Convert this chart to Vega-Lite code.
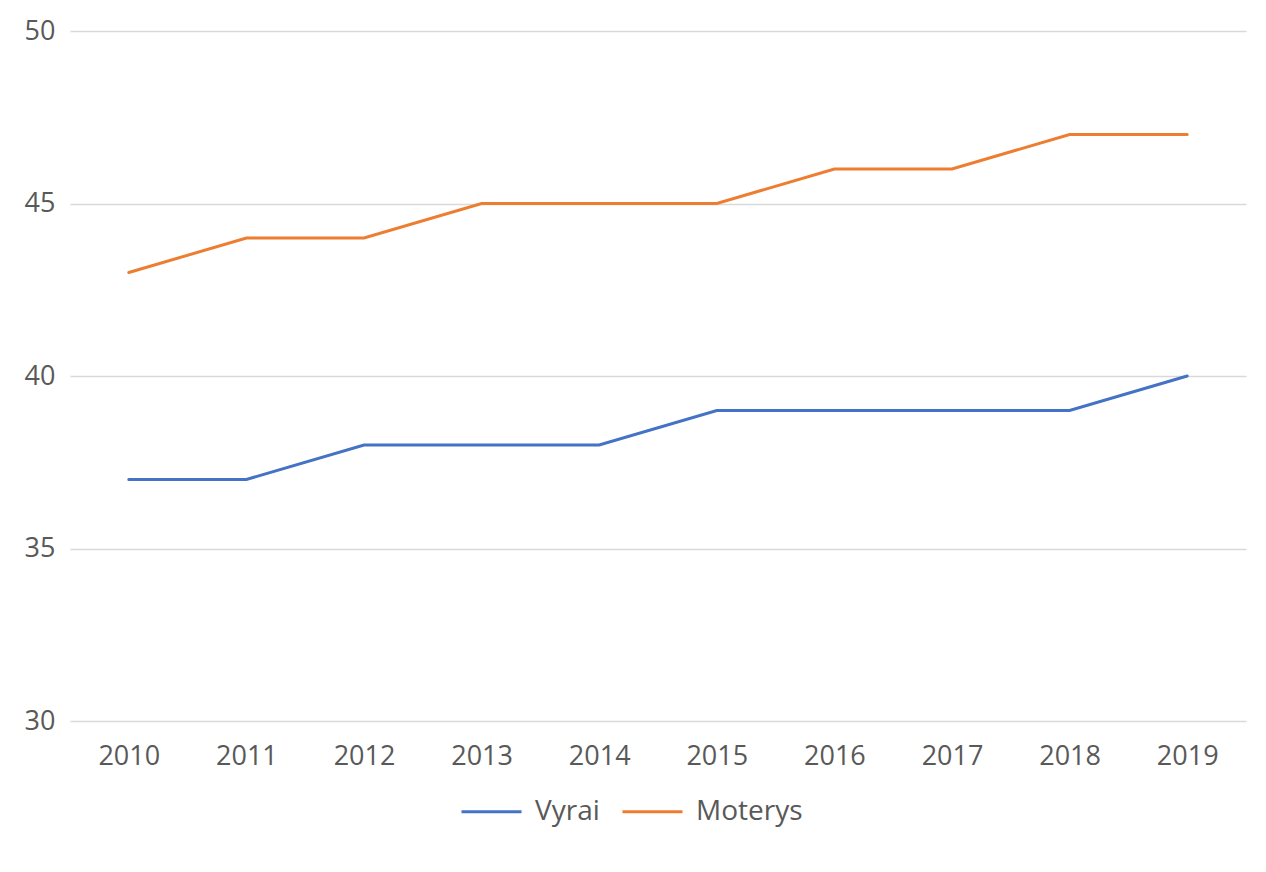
{
  "$schema": "https://vega.github.io/schema/vega-lite/v6.json",
  "autosize": "none",
  "width": 1176,
  "height": 690,
  "padding": {"left": 70, "top": 31, "right": 20, "bottom": 151},
  "background": "white",
  "data": {
    "values": [
      {"year": "2010", "series": "Vyrai", "value": 37},
      {"year": "2011", "series": "Vyrai", "value": 37},
      {"year": "2012", "series": "Vyrai", "value": 38},
      {"year": "2013", "series": "Vyrai", "value": 38},
      {"year": "2014", "series": "Vyrai", "value": 38},
      {"year": "2015", "series": "Vyrai", "value": 39},
      {"year": "2016", "series": "Vyrai", "value": 39},
      {"year": "2017", "series": "Vyrai", "value": 39},
      {"year": "2018", "series": "Vyrai", "value": 39},
      {"year": "2019", "series": "Vyrai", "value": 40},
      {"year": "2010", "series": "Moterys", "value": 43},
      {"year": "2011", "series": "Moterys", "value": 44},
      {"year": "2012", "series": "Moterys", "value": 44},
      {"year": "2013", "series": "Moterys", "value": 45},
      {"year": "2014", "series": "Moterys", "value": 45},
      {"year": "2015", "series": "Moterys", "value": 45},
      {"year": "2016", "series": "Moterys", "value": 46},
      {"year": "2017", "series": "Moterys", "value": 46},
      {"year": "2018", "series": "Moterys", "value": 47},
      {"year": "2019", "series": "Moterys", "value": 47}
    ]
  },
  "mark": {"type": "line", "strokeWidth": 3, "strokeCap": "round"},
  "encoding": {
    "x": {
      "field": "year",
      "type": "ordinal",
      "scale": {"type": "point", "padding": 0.5},
      "axis": {"title": null, "labelAngle": 0, "domain": false, "ticks": false, "grid": false, "labelPadding": 22}
    },
    "y": {
      "field": "value",
      "type": "quantitative",
      "scale": {"domain": [30, 50], "nice": false, "zero": false},
      "axis": {"title": null, "values": [30, 35, 40, 45, 50], "domain": false, "ticks": false, "labelPadding": 15, "gridColor": "#d9d9d9", "gridWidth": 1.3}
    },
    "color": {
      "field": "series",
      "type": "nominal",
      "sort": ["Vyrai", "Moterys"],
      "scale": {"domain": ["Vyrai", "Moterys"], "range": ["#4472C4", "#ED7D31"]},
      "legend": {"title": null, "orient": "none", "legendX": 390, "legendY": 749, "direction": "horizontal", "symbolType": "stroke", "symbolSize": 3600, "symbolStrokeWidth": 3, "labelFontSize": 28, "labelColor": "#595959", "labelFont": "Open Sans", "labelOffset": 12, "columnPadding": 16}
    }
  },
  "config": {
    "view": {"stroke": null},
    "axis": {"labelFont": "Open Sans", "labelFontSize": 27, "labelColor": "#595959"}
  }
}
